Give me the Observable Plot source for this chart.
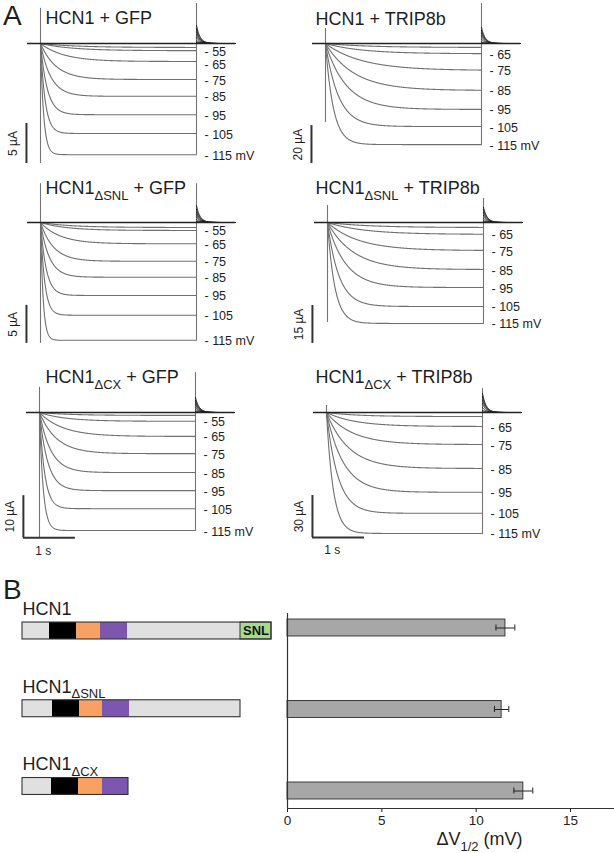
<!DOCTYPE html>
<html><head><meta charset="utf-8">
<script src="https://cdn.jsdelivr.net/npm/d3@7"></script>
<script src="https://cdn.jsdelivr.net/npm/@observablehq/plot@0.6"></script>
<style>
body{margin:0;background:#fff;}
#fig{position:relative;width:614px;height:853px;font-family:"Liberation Sans",Arial,sans-serif;color:#1e1e1e;overflow:hidden;background:#fff;}
.cell{position:absolute;}
.letter{position:absolute;font-size:28px;line-height:1.13;}
</style></head><body><div id="fig"></div>
<script>
// ---------------- data ----------------
const panelTitles = ["HCN1 + GFP", "HCN1 + TRIP8b", "HCN1_{ΔSNL} + GFP", "HCN1_{ΔSNL} + TRIP8b", "HCN1_{ΔCX} + GFP", "HCN1_{ΔCX} + TRIP8b"];
const scaleBarUA = [5, 20, 5, 15, 10, 30];
const stepsGFP = [-45, -55, -65, -75, -85, -95, -105, -115];     // mV
const stepsTRIP = [-55, -65, -75, -85, -95, -105, -115];          // mV
const firstLabelGFP = -55, firstLabelTRIP = -65;
// steady-state currents at end of the 3 s step (µA) and activation time constants (s)
const issHCN1_GFP  = [-0.5, -0.9, -2.25, -4.5, -6.6, -8.9, -11.25, -13.9];
const tauHCN1_GFP  = [0.7, 0.6, 0.45, 0.3, 0.2, 0.13, 0.09, 0.06];
const issHCN1_TRIP = [-2.1, -5.4, -14.2, -24.7, -34.7, -43.7, -53.2];
const tauHCN1_TRIP = [0.8, 0.7, 0.7, 0.55, 0.4, 0.25, 0.15];
const issSNL_GFP   = [-0.66, -1.05, -2.8, -5.1, -7.2, -9.6, -12.2, -15.5];
const tauSNL_GFP   = [0.6, 0.5, 0.38, 0.25, 0.17, 0.11, 0.08, 0.05];
const issSNL_TRIP  = [-2.0, -4.7, -11.1, -18.6, -25.7, -33.2, -39.9];
const tauSNL_TRIP  = [0.8, 0.7, 0.6, 0.5, 0.35, 0.22, 0.14];
const issCX_GFP    = [-0.7, -2.1, -5.7, -9.8, -14.3, -18.6, -22.9, -28.1];
const tauCX_GFP    = [0.6, 0.5, 0.45, 0.33, 0.22, 0.16, 0.1, 0.07];
const issCX_TRIP   = [-2.9, -10, -22.9, -40, -57, -72, -86.4];
const tauCX_TRIP   = [0.6, 0.55, 0.5, 0.43, 0.33, 0.22, 0.13];
// capacitive transients at step onset [top, bottom] and offset top (µA), tail current peaks (µA)
const transientOn = [[4.4, -15], [7.9, -41.6], [5.1, -15.9], [6.7, -39.5], [6, -29.8], [5, -4.3]];
const transientOffTop = [5, 21, 5.1, 9.5, 9.5, 17];
const tailPeakUA = [2.25, 8.4, 2.2, 6, 3.6, 13.6];

// panel B
const constructNames = ["HCN1", "HCN1_{ΔSNL}", "HCN1_{ΔCX}"];
const domainNames = ["N-terminus", "core", "C-linker", "CNBD", "C-terminus", "SNL"];
const domainLenHCN1 = [27, 27, 24, 27, 113, 31];
const domainLenSNL  = [30, 27, 23, 27, 111];
const domainLenCX   = [29, 27, 24, 26];
const deltaV12 = [11.55, 11.35, 12.5];   // mV
const deltaV12Err = [0.5, 0.38, 0.5];
const xTicks = [0, 5, 10, 15];
const xAxisTitle = "ΔV_{1/2} (mV)";

// ---------------- layout ----------------
const FONT = '"Liberation Sans", Arial, sans-serif';
const fig = document.getElementById("fig");
const PXS = 52; // px per second
const layouts = [
  {left: 0,   top: 0,   w: 300, h: 170, x0: 40, y0: 43, pxA: 8,    sbT: -0.27, sbBottom: -15,   tx: 45, ty: 18},
  {left: 290, top: 0,   w: 324, h: 170, x0: 35, y0: 43, pxA: 1.9,  sbT: -0.27, sbBottom: -63.2, tx: 25, ty: 19},
  {left: 0,   top: 170, w: 300, h: 180, x0: 40, y0: 52, pxA: 7.6,  sbT: -0.27, sbBottom: -15.9, tx: 45, ty: 18},
  {left: 290, top: 170, w: 324, h: 180, x0: 37, y0: 52, pxA: 2.53, sbT: -0.29, sbBottom: -47.8, tx: 25, ty: 18},
  {left: 0,   top: 350, w: 300, h: 215, x0: 39, y0: 62, pxA: 4.2,  sbT: -0.31, sbBottom: -29.8, tx: 45, ty: 27, timeBar: true},
  {left: 290, top: 350, w: 324, h: 215, x0: 36, y0: 62, pxA: 1.4,  sbT: -0.27, sbBottom: -89.3, tx: 25, ty: 27, timeBar: true}
];

const sets = [
  {volts: stepsGFP, first: firstLabelGFP, iss: issHCN1_GFP, tau: tauHCN1_GFP},
  {volts: stepsTRIP, first: firstLabelTRIP, iss: issHCN1_TRIP, tau: tauHCN1_TRIP},
  {volts: stepsGFP, first: firstLabelGFP, iss: issSNL_GFP, tau: tauSNL_GFP},
  {volts: stepsTRIP, first: firstLabelTRIP, iss: issSNL_TRIP, tau: tauSNL_TRIP},
  {volts: stepsGFP, first: firstLabelGFP, iss: issCX_GFP, tau: tauCX_GFP},
  {volts: stepsTRIP, first: firstLabelTRIP, iss: issCX_TRIP, tau: tauCX_TRIP}
].map((s, k) => ({...s, title: panelTitles[k], scale: scaleBarUA[k], on: transientOn[k], offTop: transientOffTop[k], tail: tailPeakUA[k]}));

function place(node, left, top) {
  const d = document.createElement("div");
  d.className = "cell";
  d.style.left = left + "px"; d.style.top = top + "px";
  d.appendChild(node);
  fig.appendChild(d);
  return node;
}

const STEP = 3, PRE = 0.25, POST = 0.75;
const LABEL_GAP = 13; // px between voltage labels
function tracePanel(s, L) {
  const pts = [], tails = [];
  const imin = d3.min(s.iss);
  s.volts.forEach((v, k) => {
    const iss = s.iss[k], tau = s.tau[k];
    for (let j = 0; j <= 600; j++) { const t = j * STEP / 600; pts.push({v, t, i: iss * (1 - Math.exp(-t / tau))}); }
    const a = s.tail * iss / imin;
    for (let j = 0; j <= 150; j++) { const t = STEP + j * POST / 150; tails.push({v, t, i: a * Math.exp(-(t - STEP) / 0.07)}); }
  });
  // labels beside the trace ends, pushed apart so they do not collide
  const labels = s.volts.map((v, k) => ({v, i: s.iss[k]})).filter(d => d.v <= s.first)
    .map(d => ({...d, text: "- " + (-d.v) + (d.v === -115 ? " mV" : "")}));
  let prevPx = -Infinity;
  labels.forEach(d => { const px = Math.max(-d.i * L.pxA + 1, prevPx + LABEL_GAP); d.dyPx = px + d.i * L.pxA; prevPx = px; });
  const marks = [
    Plot.ruleX([0], {y1: s.on[0], y2: s.on[1], stroke: "#747474", strokeWidth: 1.1}),
    Plot.ruleX([STEP], {y1: s.offTop, y2: imin, stroke: "#747474", strokeWidth: 1.1}),
    Plot.line(pts, {x: "t", y: "i", z: "v", stroke: "#707070", strokeWidth: 1.1}),
    Plot.line(tails, {x: "t", y: "i", z: "v", stroke: "#1a1a1a", strokeWidth: 1}),
    Plot.ruleY([0], {x1: -PRE, x2: STEP + POST, stroke: "#222", strokeWidth: 1.5}),
    ...labels.map(d => Plot.text([d], {x: STEP, y: "i", text: "text", textAnchor: "start", dx: 8, dy: d.dyPx, fontSize: 12.5, fill: "#1e1e1e"})),
    Plot.ruleX([L.sbT], {y1: L.sbBottom + s.scale, y2: L.sbBottom, stroke: "#333", strokeWidth: 2}),
    Plot.text([s.scale + " µA"], {x: L.sbT, y: L.sbBottom + s.scale / 2, text: d => d, rotate: -90, dx: -13, fontSize: 12, fill: "#1e1e1e"}),
    Plot.text([s.title], {text: d => d, frameAnchor: "top-left", lineAnchor: "middle", dx: L.tx, dy: L.ty, textAnchor: "start", fontSize: 18, fill: "#1e1e1e"})
  ];
  if (L.timeBar) {
    marks.push(Plot.ruleY([L.sbBottom], {x1: L.sbT, x2: L.sbT + 1, stroke: "#333", strokeWidth: 2}));
    marks.push(Plot.text(["1 s"], {x: L.sbT + 0.38, y: L.sbBottom, text: d => d, dy: 13, fontSize: 12, fill: "#1e1e1e"}));
  }
  return Plot.plot({
    width: L.w, height: L.h, margin: 0,
    x: {domain: [0, 1], range: [L.x0, L.x0 + PXS], axis: null},
    y: {domain: [0, -1], range: [L.y0, L.y0 + L.pxA], axis: null},
    style: {background: "transparent", overflow: "visible", fontFamily: FONT, color: "#1e1e1e"},
    marks
  });
}

sets.forEach((s, k) => place(tracePanel(s, layouts[k]), layouts[k].left, layouts[k].top));

// ---------------- panel B: constructs ----------------
const lens = [domainLenHCN1, domainLenSNL, domainLenCX];
const segs = [];
lens.forEach((arr, i) => { let x = 0; arr.forEach((len, k) => { segs.push({i, domain: domainNames[k], x1: x, x2: x + len}); x += len; }); });
const outlines = lens.map((arr, i) => ({i, name: constructNames[i], len: d3.sum(arr)}));
const HB = 0.109;
const constructPlot = Plot.plot({
  width: 285, height: 253, margin: 0,
  x: {domain: [0, 100], range: [22, 122], axis: null},
  y: {domain: [0, 2], range: [30.5, 186], axis: null},
  color: {domain: domainNames, range: ["#e0e0e0", "#000000", "#f9a163", "#7d56b0", "#e0e0e0", "#a8da8c"]},
  style: {background: "transparent", overflow: "visible", fontFamily: FONT, color: "#1e1e1e"},
  marks: [
    Plot.rect(segs, {x1: "x1", x2: "x2", y1: d => d.i - HB, y2: d => d.i + HB, fill: "domain"}),
    Plot.rect(segs.filter(d => d.domain === "SNL"), {x1: "x1", x2: "x2", y1: d => d.i - HB, y2: d => d.i + HB, fill: "none", stroke: "#333", strokeWidth: 1}),
    Plot.rect(outlines, {x1: 0, x2: "len", y1: d => d.i - HB, y2: d => d.i + HB, fill: "none", stroke: "#333", strokeWidth: 1.1}),
    Plot.text(outlines, {x: 0, y: "i", text: "name", textAnchor: "start", dx: 0, dy: -22, fontSize: 18, fill: "#1e1e1e"}),
    Plot.text(segs.filter(d => d.domain === "SNL"), {x: d => (d.x1 + d.x2) / 2, y: "i", text: d => d.domain, fontSize: 13, fontWeight: "bold", fill: "#111"})
  ]
});
place(constructPlot, 0, 600);

// ---------------- panel B: ΔV1/2 bars ----------------
const barRows = deltaV12.map((v, i) => ({i, v, e: deltaV12Err[i], name: constructNames[i]}));
const BH = 0.104, CAP = 0.037;
const axisIdx = 2 * (208 - 27.5) / (190.5 - 27.5);
const barPlot = Plot.plot({
  width: 344, height: 253, marginTop: 13, marginBottom: 45, marginLeft: 17, marginRight: 0,
  x: {domain: [0, 15], range: [17, 300], ticks: xTicks, tickSize: 4, tickPadding: 3, label: null},
  y: {domain: [0, 2], range: [27.5, 190.5], axis: null},
  style: {background: "transparent", overflow: "visible", fontFamily: FONT, fontSize: "13.5px", color: "#1e1e1e"},
  marks: [
    Plot.rect(barRows, {x1: 0, x2: "v", y1: d => d.i - BH, y2: d => d.i + BH, fill: "#a7a7a7", stroke: "#3c3c3c", strokeWidth: 1}),
    Plot.ruleY(barRows, {y: "i", x1: d => d.v - d.e, x2: d => d.v + d.e, stroke: "#222", strokeWidth: 1}),
    Plot.ruleX(barRows, {x: d => d.v - d.e, y1: d => d.i - CAP, y2: d => d.i + CAP, stroke: "#222"}),
    Plot.ruleX(barRows, {x: d => d.v + d.e, y1: d => d.i - CAP, y2: d => d.i + CAP, stroke: "#222"}),
    Plot.ruleX([0], {stroke: "#333", strokeWidth: 1.2}),
    Plot.ruleY([axisIdx], {stroke: "#333", strokeWidth: 1.2}),
    Plot.text([xAxisTitle], {text: d => d, frameAnchor: "bottom-left", lineAnchor: "middle", dx: 149, dy: 31, fontSize: 18, fill: "#1e1e1e"})
  ]
});
place(barPlot, 270, 600);

// panel letters
[["A", 3, 0], ["B", 3, 574]].forEach(([t, x, y]) => {
  const d = document.createElement("div");
  d.className = "letter"; d.textContent = t; d.style.left = x + "px"; d.style.top = y + "px";
  fig.appendChild(d);
});

// subscripts: "_{...}" -> lowered, smaller tspan
function subscriptify(root) {
  const ns = "http://www.w3.org/2000/svg";
  root.querySelectorAll("svg text").forEach(t => {
    const s = t.textContent;
    if (!s.includes("_{")) return;
    const fs = parseFloat(getComputedStyle(t).fontSize) || 16;
    const parts = s.split(/_\{([^}]*)\}/);
    while (t.firstChild) t.removeChild(t.firstChild);
    const off = fs * 0.32;
    let shift = 0;
    parts.forEach((p, k) => {
      if (!p) return;
      const ts = document.createElementNS(ns, "tspan");
      if (k % 2 === 1) {
        ts.setAttribute("font-size", (fs * 0.72).toFixed(1));
        if (off - shift) ts.setAttribute("dy", (off - shift).toFixed(1));
        shift = off;
      } else if (shift) {
        ts.setAttribute("dy", (-shift).toFixed(1));
        shift = 0;
      }
      ts.textContent = p;
      t.appendChild(ts);
    });
  });
}
subscriptify(fig);
</script>
</body></html>
